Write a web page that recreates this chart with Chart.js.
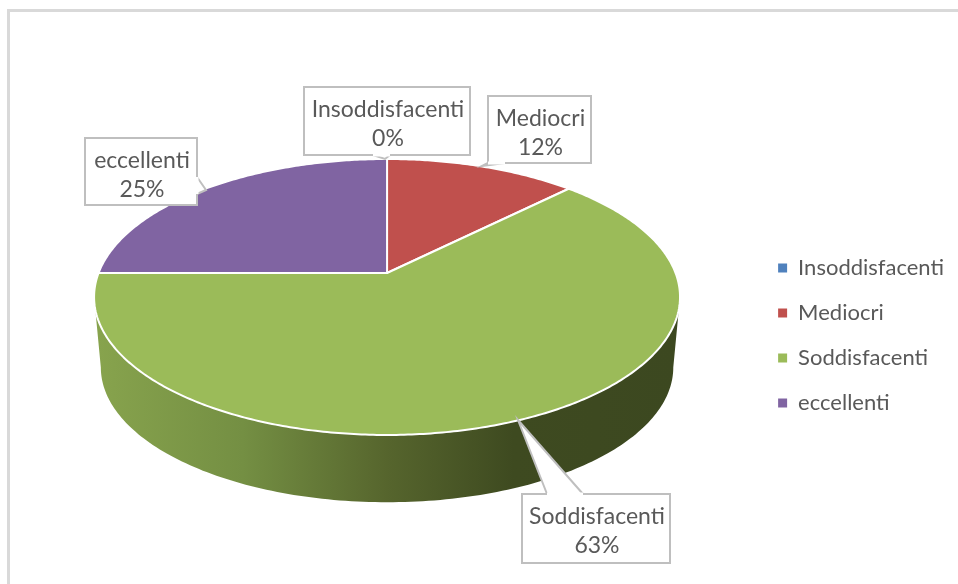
<!DOCTYPE html>
<html>
<head>
<meta charset="utf-8">
<style>
  html, body { margin: 0; padding: 0; background: #fff; }
  #wrap { width: 958px; height: 584px; position: relative; }
</style>
<script src="https://cdn.jsdelivr.net/npm/chart.js@4"></script>
</head>
<body>
<div id="wrap"><canvas id="chart" width="958" height="584"></canvas></div>
<script>
const categories = ['Insoddisfacenti', 'Mediocri', 'Soddisfacenti', 'eccellenti'];
const shares = [0, 12.5, 62.5, 25];
const shareLabels = ['0%', '12%', '63%', '25%'];
const sliceColors = ['#4f81bd', '#c0504d', '#9bbb59', '#8064a2'];

// callout boxes: [left, top, right, bottom], leader tip and the two feet on the box edge
const callouts = [
  { box: [304, 87, 470, 155], tip: [385, 159], feet: [[373, 155], [390, 155]] },
  { box: [488, 96, 591, 163], tip: [482, 166], feet: [[488, 163], [505, 163]] },
  { box: [522, 494, 670, 563], tip: [518, 420], feet: [[547, 494], [583, 494]] },
  { box: [85, 138, 197, 205], tip: [206, 190], feet: [[197, 177], [197, 194]] }
];

// projected radii of the pie top, in pixels
const topRx = 288.5, topRy = 133.8, tilt = -0.1739;
// base of the pie relative to its top
const baseScale = 0.977, baseDrop = 71;
// rim angle where the top ellipse is widest, the wall starts there
const rimAngle = 10;

function project(el, a, scale, drop) {
  // chart.js angles start at -PI/2 already (top of the pie)
  const u = Math.cos(a), v = Math.sin(a);
  const w = 1 + tilt * v;
  return [el.x + scale * topRx * u / w, el.y + drop + scale * topRy * v / w];
}

const pie3d = {
  id: 'pie3d',
  beforeDatasetDraw(chart, args) {
    const ctx = chart.ctx;
    const arcs = args.meta.data;
    const el = arcs[0];

    // side wall: front half of the rim
    const grad = ctx.createLinearGradient(el.x - topRx, 0, el.x + topRx, 0);
    grad.addColorStop(0, '#87a34d');
    grad.addColorStop(0.25, '#748f43');
    grad.addColorStop(0.5, '#56652d');
    grad.addColorStop(0.72, '#3e4a20');
    grad.addColorStop(1, '#3c4820');
    ctx.save();
    ctx.beginPath();
    for (let i = rimAngle; i <= 180 - rimAngle; i++) {
      const p = project(el, i * Math.PI / 180, 1, 0);
      ctx.lineTo(p[0], p[1]);
    }
    for (let i = 180 - rimAngle; i >= rimAngle; i--) {
      const p = project(el, i * Math.PI / 180, baseScale, baseDrop);
      ctx.lineTo(p[0], p[1]);
    }
    ctx.closePath();
    ctx.fillStyle = grad;
    ctx.fill();

    // top faces
    arcs.forEach((arc, i) => {
      if (arc.endAngle - arc.startAngle <= 0) return;
      ctx.beginPath();
      ctx.moveTo(arc.x, arc.y);
      const steps = Math.ceil((arc.endAngle - arc.startAngle) * 90);
      for (let s = 0; s <= steps; s++) {
        const p = project(arc, arc.startAngle + (arc.endAngle - arc.startAngle) * s / steps, 1, 0);
        ctx.lineTo(p[0], p[1]);
      }
      ctx.closePath();
      ctx.fillStyle = sliceColors[i];
      ctx.fill();
      ctx.strokeStyle = '#fff';
      ctx.lineWidth = 2;
      ctx.lineJoin = 'round';
      ctx.stroke();
    });
    ctx.restore();
    return false;
  },
  afterDraw(chart) {
    const ctx = chart.ctx;
    ctx.save();
    // chart frame
    ctx.strokeStyle = '#d9d9d9';
    ctx.lineWidth = 3;
    ctx.beginPath();
    ctx.moveTo(8.5, 584);
    ctx.lineTo(8.5, 10.5);
    ctx.lineTo(958, 10.5);
    ctx.stroke();

    callouts.forEach((c, i) => {
      const [l, t, r, b] = c.box;
      ctx.beginPath();
      ctx.rect(l, t, r - l, b - t);
      ctx.fillStyle = '#fff';
      ctx.strokeStyle = '#bfbfbf';
      ctx.lineWidth = 2;
      ctx.fill();
      ctx.stroke();
      // leader wedge
      ctx.beginPath();
      ctx.moveTo(c.feet[0][0], c.feet[0][1]);
      ctx.lineTo(c.tip[0], c.tip[1]);
      ctx.lineTo(c.feet[1][0], c.feet[1][1]);
      ctx.fill();
      ctx.stroke();
      ctx.beginPath();
      ctx.moveTo(c.feet[0][0], c.feet[0][1]);
      ctx.lineTo(c.feet[1][0], c.feet[1][1]);
      ctx.lineWidth = 3;
      ctx.strokeStyle = '#fff';
      ctx.stroke();

      ctx.fillStyle = '#595959';
      ctx.font = '23px Lato';
      ctx.textAlign = 'center';
      ctx.textBaseline = 'middle';
      const mid = (l + r) / 2 + 1;
      ctx.fillText(categories[i], mid, t + 22.5);
      ctx.fillText(shareLabels[i], mid, t + 51.5);
    });
    ctx.restore();
  }
};

new Chart(document.getElementById('chart'), {
  type: 'pie',
  data: {
    labels: categories,
    datasets: [{
      data: shares,
      backgroundColor: sliceColors,
      borderWidth: 0
    }]
  },
  options: {
    responsive: false,
    animation: false,
    layout: { padding: { left: 19, right: 4, top: 109, bottom: 147 } },
    plugins: {
      tooltip: { enabled: false },
      legend: {
        position: 'right',
        align: 'end',
        labels: {
          boxWidth: 9,
          boxHeight: 9,
          padding: 23,
          color: '#595959',
          font: { family: 'Lato', size: 22 }
        }
      }
    }
  },
  plugins: [pie3d]
});
</script>
</body>
</html>
